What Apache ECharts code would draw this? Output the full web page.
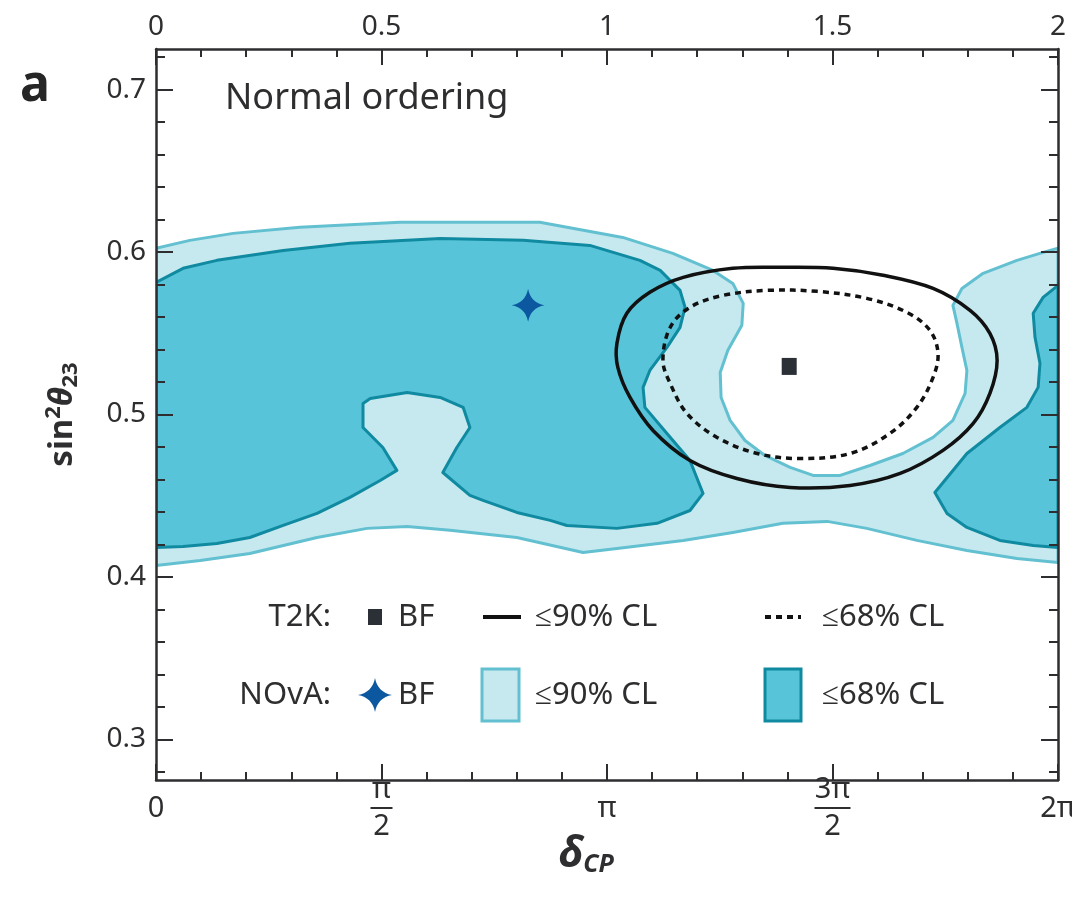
<!DOCTYPE html>
<html>
<head>
<meta charset="utf-8">
<title>T2K / NOvA</title>
<script src="https://cdn.jsdelivr.net/npm/echarts@6/dist/echarts.min.js"></script>
<style>
  html, body { margin: 0; padding: 0; background: #fff; }
  #chart { width: 1072px; height: 898px; }
</style>
</head>
<body>
<div id="chart"></div>
<script>
// x values are delta_CP in units of pi, y values are sin^2(theta23)

// NOvA 90% CL region (top edge left->right, then bottom edge right->left)
var nova90 = [
  [0, 0.6023], [0.075, 0.6072], [0.171, 0.6115], [0.319, 0.6152], [0.541, 0.6183],
  [0.851, 0.6183], [1.035, 0.6090], [1.146, 0.5992], [1.235, 0.5887], [1.279, 0.5807],
  [1.302, 0.5684], [1.299, 0.5549], [1.268, 0.5395], [1.251, 0.5259], [1.253, 0.5105],
  [1.273, 0.4964], [1.306, 0.4840], [1.350, 0.4748], [1.406, 0.4674], [1.457, 0.4625],
  [1.517, 0.4625], [1.583, 0.4686], [1.656, 0.4760], [1.723, 0.4859], [1.767, 0.4964],
  [1.794, 0.5130], [1.798, 0.5271], [1.787, 0.5413], [1.776, 0.5561], [1.767, 0.5672],
  [1.787, 0.5776], [1.834, 0.5869], [1.909, 0.5949], [1.967, 0.5998], [2.0, 0.6023],
  [2.0, 0.4089], [1.909, 0.4114], [1.798, 0.4163], [1.687, 0.4225], [1.576, 0.4299],
  [1.488, 0.4342], [1.390, 0.4330], [1.279, 0.4274], [1.169, 0.4225], [1.022, 0.4175],
  [0.947, 0.4151], [0.800, 0.4243], [0.652, 0.4287], [0.557, 0.4311], [0.468, 0.4299],
  [0.357, 0.4243], [0.208, 0.4144], [0.098, 0.4101], [0, 0.4071]
];

// NOvA 68% CL, left island
var nova68Left = [
  [0, 0.5813], [0.060, 0.5900], [0.135, 0.5949], [0.282, 0.6010], [0.430, 0.6054],
  [0.630, 0.6084], [0.814, 0.6072], [0.962, 0.6041], [1.073, 0.5949], [1.118, 0.5887],
  [1.162, 0.5764], [1.173, 0.5660], [1.162, 0.5536], [1.133, 0.5413], [1.095, 0.5271],
  [1.080, 0.5167], [1.084, 0.5044], [1.133, 0.4883], [1.184, 0.4717], [1.213, 0.4514],
  [1.184, 0.4409], [1.111, 0.4330], [1.022, 0.4299], [0.911, 0.4317], [0.874, 0.4348],
  [0.800, 0.4397], [0.725, 0.4471], [0.696, 0.4502], [0.636, 0.4643], [0.667, 0.4797],
  [0.696, 0.4920], [0.681, 0.5044], [0.630, 0.5105], [0.557, 0.5136], [0.475, 0.5099],
  [0.459, 0.5068], [0.459, 0.4920], [0.503, 0.4797], [0.534, 0.4656], [0.497, 0.4594],
  [0.430, 0.4490], [0.357, 0.4391], [0.282, 0.4317], [0.208, 0.4243], [0.135, 0.4206],
  [0.060, 0.4188], [0, 0.4181]
];

// NOvA 68% CL, right island
var nova68Right = [
  [2.0, 0.5795], [1.967, 0.5721], [1.945, 0.5623], [1.949, 0.5475], [1.960, 0.5315],
  [1.956, 0.5167], [1.931, 0.5044], [1.871, 0.4920], [1.798, 0.4760], [1.727, 0.4520],
  [1.754, 0.4391], [1.798, 0.4305], [1.871, 0.4225], [1.945, 0.4194], [2.0, 0.4181]
];

// T2K contours
var t2k90 = [
  [1.022, 0.5438], [1.044, 0.5623], [1.095, 0.5752], [1.169, 0.5844], [1.279, 0.5900],
  [1.390, 0.5906], [1.501, 0.5900], [1.612, 0.5857], [1.723, 0.5776], [1.805, 0.5641],
  [1.849, 0.5499], [1.865, 0.5333], [1.849, 0.5130], [1.812, 0.4945], [1.745, 0.4779],
  [1.650, 0.4637], [1.539, 0.4563], [1.406, 0.4551], [1.288, 0.4606], [1.184, 0.4717],
  [1.102, 0.4902], [1.051, 0.5105], [1.024, 0.5290]
];
var t2k68 = [
  [1.124, 0.5333], [1.140, 0.5536], [1.184, 0.5660], [1.257, 0.5733], [1.355, 0.5764],
  [1.466, 0.5758], [1.576, 0.5715], [1.665, 0.5629], [1.716, 0.5518], [1.734, 0.5376],
  [1.723, 0.5228], [1.687, 0.5044], [1.627, 0.4883], [1.539, 0.4760], [1.428, 0.4729],
  [1.333, 0.4760], [1.244, 0.4859], [1.177, 0.5007], [1.140, 0.5192]
];

var t2kBF = [[1.404, 0.5296]];
var novaBF = [[0.825, 0.5672]];

// ticks
var xTickLabels = ['0', 'π/2', 'π', '3π/2', '2π'];
var topTickLabels = ['0', '0.5', '1', '1.5', '2'];
var yTickVals = [0.3, 0.4, 0.5, 0.6, 0.7];
var yMinorVals = [0.28, 0.32, 0.34, 0.36, 0.38, 0.42, 0.44, 0.46, 0.48, 0.52, 0.54, 0.56, 0.58, 0.62, 0.64, 0.66, 0.68, 0.72];

var FONT = 'Noto Sans';
var INK = '#2e2e30';
var lightFill = '#c6e9f0', lightLine = '#63c0d0';
var darkFill = '#57c4d9', darkLine = '#108aa0';
var starColor = '#0b58a0';
var starPath = 'path://M0,-16 Q2.5,-2.5 16,0 Q2.5,2.5 0,16 Q-2.5,2.5 -16,0 Q-2.5,-2.5 0,-16 Z';

// four-point star outline as polygon points (legend icon)
function starPoints(cx, cy, r) {
  var pts = [];
  var tips = [[0, -r], [r, 0], [0, r], [-r, 0]];
  for (var i = 0; i < 4; i++) {
    var a = tips[i], b = tips[(i + 1) % 4];
    var c = [(a[0] + b[0]) * 0.16, (a[1] + b[1]) * 0.16];
    for (var t = 0; t < 1; t += 0.125) {
      var u = 1 - t;
      pts.push([cx + u * u * a[0] + 2 * u * t * c[0] + t * t * b[0],
                cy + u * u * a[1] + 2 * u * t * c[1] + t * t * b[1]]);
    }
  }
  return pts;
}

function areaSeries(pts, fill, stroke, z) {
  return {
    type: 'custom', z: z, clip: true, silent: true, data: pts,
    encode: { x: 0, y: 1 },
    renderItem: function (params, api) {
      if (params.dataIndex !== 0) return null;
      return {
        type: 'polygon',
        shape: { points: pts.map(function (p) { return api.coord(p); }) },
        style: { fill: fill, stroke: stroke, lineWidth: 3, lineJoin: 'round' }
      };
    }
  };
}

function contourSeries(pts, dash, z) {
  return {
    type: 'custom', z: z, clip: true, silent: true, data: pts,
    encode: { x: 0, y: 1 },
    renderItem: function (params, api) {
      if (params.dataIndex !== 0) return null;
      return {
        type: 'polygon',
        shape: { points: pts.map(function (p) { return api.coord(p); }), smooth: 0.35 },
        style: { fill: 'none', stroke: '#111', lineWidth: 3.5, lineDash: dash }
      };
    }
  };
}

var tickLine = { color: INK, width: 2 };

function bottomLabel(v) {
  var s = xTickLabels[Math.round(v * 2)];
  if (s.indexOf('/') < 0) return '{s|' + s + '}';
  var parts = s.split('/');
  var bar = parts[0].length > 1 ? 'bar2' : 'bar1';
  return '{n|' + parts[0] + '}\n{' + bar + '| }\n{d|' + parts[1] + '}';
}

var yBase = {
  type: 'value', min: 0.275, max: 0.725, splitLine: { show: false },
  z: 10
};

function legendText(txt, x, y, right) {
  return {
    type: 'text', x: x, y: y,
    style: { text: txt, font: '31px "' + FONT + '"', fill: INK, align: right ? 'right' : 'left', verticalAlign: 'middle' }
  };
}

var option = {
  animation: false,
  backgroundColor: '#fff',
  title: {
    text: 'Normal ordering', left: 220, top: 76,
    textStyle: { fontFamily: FONT, fontSize: 36, fontWeight: 'normal', color: INK }
  },
  grid: { left: 156, right: 14, top: 49, bottom: 118, outerBoundsMode: 'none', containLabel: false },
  xAxis: [
    {
      type: 'value', position: 'bottom', min: 0, max: 2, interval: 0.5, z: 10,
      splitLine: { show: false },
      axisLine: { lineStyle: { color: INK, width: 2.5 } },
      axisTick: { inside: true, length: 16, lineStyle: tickLine },
      minorTick: { show: true, splitNumber: 5, length: 8, lineStyle: tickLine },
      axisLabel: {
        margin: 29, verticalAlign: 'middle', formatter: bottomLabel,
        rich: {
          s: { fontFamily: FONT, fontSize: 29, color: INK },
          n: { fontFamily: FONT, fontSize: 29, color: INK, lineHeight: 30, align: 'center' },
          d: { fontFamily: FONT, fontSize: 29, color: INK, lineHeight: 32, align: 'center' },
          bar1: { width: 22, height: 2, lineHeight: 6, fontSize: 2, backgroundColor: INK, align: 'center' },
          bar2: { width: 36, height: 2, lineHeight: 6, fontSize: 2, backgroundColor: INK, align: 'center' }
        }
      },
      name: '{d|δ}{s|CP}', nameLocation: 'middle', nameGap: 52, nameMoveOverlap: false,
      nameTextStyle: {
        padding: [0, 42, 0, 0],
        rich: {
          d: { fontFamily: FONT, fontSize: 43, fontWeight: 'bold', fontStyle: 'italic', color: INK },
          s: { fontFamily: FONT, fontSize: 25, fontWeight: 'bold', fontStyle: 'italic', color: INK, padding: [20, 0, 0, 0] }
        }
      }
    },
    {
      type: 'value', position: 'top', min: 0, max: 2, interval: 0.5, z: 10,
      splitLine: { show: false },
      axisLine: { lineStyle: { color: INK, width: 2.5 } },
      axisTick: { inside: true, length: 16, lineStyle: tickLine },
      minorTick: { show: true, splitNumber: 5, length: 8, lineStyle: tickLine },
      axisLabel: {
        margin: 8, fontFamily: FONT, fontSize: 28, color: INK,
        formatter: function (v) { return topTickLabels[Math.round(v * 2)]; }
      }
    }
  ],
  yAxis: [
    Object.assign({}, yBase, {
      position: 'left',
      axisLine: { lineStyle: { color: INK, width: 2.5 } },
      axisTick: { inside: true, length: 17, lineStyle: tickLine, customValues: yTickVals },
      axisLabel: {
        margin: 10, fontFamily: FONT, fontSize: 28, color: INK, customValues: yTickVals,
        formatter: function (v) { return v.toFixed(1); }
      },
      name: '{b|sin}{sup|2}{t|θ}{sub|23}', nameLocation: 'middle', nameRotate: 90, nameGap: 74,
      nameMoveOverlap: false,
      nameTextStyle: {
        rich: {
          b: { fontFamily: FONT, fontSize: 33, fontWeight: 'bold', color: INK },
          sup: { fontFamily: FONT, fontSize: 22, fontWeight: 'bold', color: INK, padding: [0, 0, 17, 0] },
          t: { fontFamily: FONT, fontSize: 33, fontWeight: 'bold', fontStyle: 'italic', color: INK },
          sub: { fontFamily: FONT, fontSize: 22, fontWeight: 'bold', color: INK, padding: [17, 0, 0, 0] }
        }
      }
    }),
    Object.assign({}, yBase, {
      position: 'left',
      axisLine: { show: false },
      axisTick: { inside: true, length: 9, lineStyle: tickLine, customValues: yMinorVals },
      axisLabel: { show: false }
    }),
    Object.assign({}, yBase, {
      position: 'right',
      axisLine: { lineStyle: { color: INK, width: 2.5 } },
      axisTick: { inside: true, length: 17, lineStyle: tickLine, customValues: yTickVals },
      axisLabel: { show: false }
    }),
    Object.assign({}, yBase, {
      position: 'right',
      axisLine: { show: false },
      axisTick: { inside: true, length: 9, lineStyle: tickLine, customValues: yMinorVals },
      axisLabel: { show: false }
    })
  ],
  series: [
    areaSeries(nova90, lightFill, lightLine, 1),
    areaSeries(nova68Left, darkFill, darkLine, 2),
    areaSeries(nova68Right, darkFill, darkLine, 2),
    contourSeries(t2k68, [6, 5], 3),
    contourSeries(t2k90, null, 3),
    {
      type: 'scatter', data: t2kBF, symbol: 'rect', symbolSize: [15, 17], z: 4, silent: true,
      itemStyle: { color: '#2b2f36', opacity: 1 }
    },
    {
      type: 'scatter', data: novaBF, symbol: starPath, symbolSize: [33, 33], z: 4, silent: true,
      itemStyle: { color: starColor, opacity: 1 }
    }
  ],
  graphic: [
    { type: 'text', left: 20, top: 62, style: { text: 'a', font: 'bold 50px "' + FONT + '"', fill: '#262626' } },
    // legend row 1 (T2K)
    legendText('T2K:', 331, 617, true),
    { type: 'rect', shape: { x: 368, y: 609, width: 14, height: 16 }, style: { fill: '#2b2f36' } },
    legendText('BF', 398, 617),
    { type: 'line', shape: { x1: 483, y1: 617, x2: 521, y2: 617 }, style: { stroke: '#111', lineWidth: 4 } },
    legendText('≤90% CL', 535, 617),
    { type: 'line', shape: { x1: 765, y1: 617, x2: 801, y2: 617 }, style: { stroke: '#111', lineWidth: 4, lineDash: [6, 5] } },
    legendText('≤68% CL', 822, 617),
    // legend row 2 (NOvA)
    legendText('NOvA:', 331, 695, true),
    { type: 'polygon', shape: { points: starPoints(375, 695, 17) }, style: { fill: starColor } },
    legendText('BF', 398, 695),
    { type: 'rect', shape: { x: 482, y: 669, width: 37, height: 52 }, style: { fill: lightFill, stroke: lightLine, lineWidth: 3 } },
    legendText('≤90% CL', 535, 695),
    { type: 'rect', shape: { x: 765, y: 669, width: 36, height: 52 }, style: { fill: darkFill, stroke: darkLine, lineWidth: 3 } },
    legendText('≤68% CL', 822, 695)
  ]
};

var chart = echarts.init(document.getElementById('chart'), null, { renderer: 'canvas' });
chart.setOption(option);
</script>
</body>
</html>
